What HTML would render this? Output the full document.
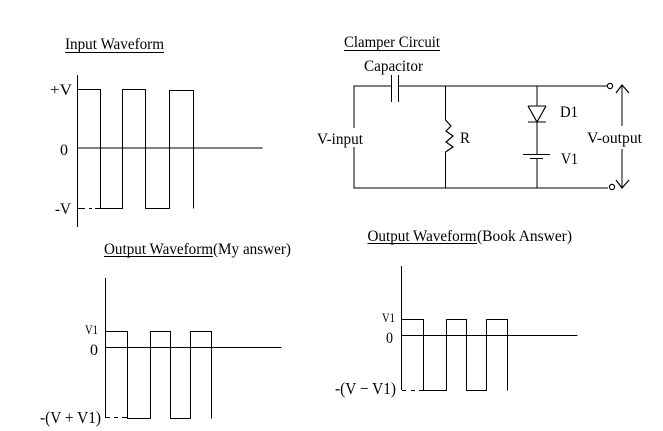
<!DOCTYPE html>
<html>
<head>
<meta charset="utf-8">
<style>
html,body{margin:0;padding:0;background:#fff;width:663px;height:431px;overflow:hidden}
svg{display:block}
text{font-family:"Liberation Serif","Times New Roman",serif;font-size:16px;fill:#000}
.l{fill:none;stroke:#000;stroke-width:1.2}
</style>
</head>
<body>
<svg width="663" height="431" viewBox="0 0 663 431" xmlns="http://www.w3.org/2000/svg" shape-rendering="crispEdges">
<!-- Input waveform -->
<g class="l">
<path d="M77.5 75V227"/>
<path d="M77.5 148H262.5"/>
<path d="M77.5 89.5H100.5V208.5H122.5V89.5H145.5V208.5H169.5V90.5H193.5V208.5"/>
<path d="M78 208.5H85M89 208.5H92M95 208.5H100"/>
</g>
<text x="65" y="49" textLength="99" lengthAdjust="spacingAndGlyphs">Input Waveform</text>
<path class="l" d="M65 52.5H164"/>
<text x="50" y="95" textLength="22" lengthAdjust="spacingAndGlyphs">+V</text>
<text x="60" y="155" textLength="8" lengthAdjust="spacingAndGlyphs">0</text>
<text x="55" y="214" textLength="16" lengthAdjust="spacingAndGlyphs">-V</text>

<!-- Circuit -->
<g class="l">
<path d="M354 128V86H391M398 86H607"/>
<path d="M391.5 75V102M398.5 75V102"/>
<path d="M354 147V188H608"/>
<path d="M445.5 86V120"/>
<path d="M445.5 152V188"/>
<path d="M537 86V106M537 122V154M537 158V188"/>
<path d="M528 106H546M528 122H546"/>
<path d="M523 154.5H550M530 158.5H543"/>
<path d="M622 86V126M622 149V188"/>
</g>
<g fill="none" stroke="#000" stroke-width="1.2" shape-rendering="geometricPrecision">
<path d="M445.5 120L451 126L446 131L453 136L446 142L453 147L445.5 152"/>
<path d="M528 106L537 122L546 106"/>
<circle cx="610" cy="86" r="2.6"/>
<circle cx="612" cy="187" r="2.6"/>
<path d="M616 93L622 85L629 93"/>
<path d="M616 180L622 188L629 180"/>
</g>
<text x="344" y="47" textLength="96" lengthAdjust="spacingAndGlyphs">Clamper Circuit</text>
<path class="l" d="M344 50.5H440"/>
<text x="364" y="71" textLength="59" lengthAdjust="spacingAndGlyphs">Capacitor</text>
<text x="317" y="144" textLength="46" lengthAdjust="spacingAndGlyphs">V-input</text>
<text x="460" y="143" textLength="10" lengthAdjust="spacingAndGlyphs">R</text>
<text x="560" y="117" textLength="18" lengthAdjust="spacingAndGlyphs">D1</text>
<text x="561" y="164" textLength="17" lengthAdjust="spacingAndGlyphs">V1</text>
<text x="587" y="143" textLength="55" lengthAdjust="spacingAndGlyphs">V-output</text>

<!-- Output (My answer) -->
<g class="l">
<path d="M105.5 278V418"/>
<path d="M105.5 347.5H281.5"/>
<path d="M105.5 331.5H127.5V418.5H150.5V331.5H170.5V418.5H190.5V331.5H211.5V418.5"/>
<path d="M106 417.5H110M114 417.5H118M122 417.5H127"/>
</g>
<text x="104" y="254" textLength="109" lengthAdjust="spacingAndGlyphs">Output Waveform</text>
<path class="l" d="M104 256.5H213"/>
<text x="213" y="254" textLength="78" lengthAdjust="spacingAndGlyphs">(My answer)</text>
<text x="85" y="334" style="font-size:13px" textLength="13" lengthAdjust="spacingAndGlyphs">V1</text>
<text x="90" y="355" textLength="8" lengthAdjust="spacingAndGlyphs">0</text>
<text x="40" y="423" style="font-size:17px" textLength="61" lengthAdjust="spacingAndGlyphs">-(V + V1)</text>

<!-- Output (Book answer) -->
<g class="l">
<path d="M401.5 266V390"/>
<path d="M401.5 335.5H577.5"/>
<path d="M401.5 319.5H423.5V390.5H446.5V319.5H466.5V390.5H486.5V319.5H507.5V390.5"/>
<path d="M402 390.5H406M411 390.5H415M419 390.5H423"/>
</g>
<text x="367.5" y="241" textLength="109" lengthAdjust="spacingAndGlyphs">Output Waveform</text>
<path class="l" d="M367.5 243.5H477"/>
<text x="477" y="241" textLength="95" lengthAdjust="spacingAndGlyphs">(Book Answer)</text>
<text x="382" y="322" style="font-size:13px" textLength="13" lengthAdjust="spacingAndGlyphs">V1</text>
<text x="386" y="343" textLength="7" lengthAdjust="spacingAndGlyphs">0</text>
<text x="335" y="394" style="font-size:17px" textLength="61" lengthAdjust="spacingAndGlyphs">-(V − V1)</text>
</svg>
</body>
</html>
